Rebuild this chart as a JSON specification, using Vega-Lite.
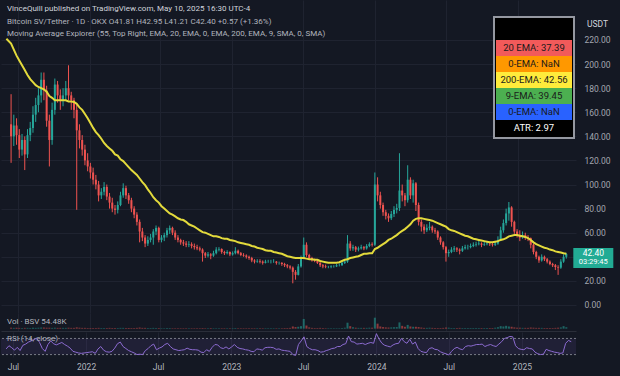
{
"$schema":"https://vega.github.io/schema/vega-lite/v6.json",
"background":"#141823",
"padding":{"left":0,"top":0,"right":6,"bottom":6},
"spacing":0,
"config":{"view":{"stroke":null},"font":"Roboto","axis":{"gridColor":"#1f2330","gridWidth":1}},
"datasets":{"tbl":[{"k":"20 EMA: 37.39"},{"k":"0-EMA: NaN"},{"k":"200-EMA: 42.56"},{"k":"9-EMA: 39.45"},{"k":"0-EMA: NaN "},{"k":"ATR: 2.97"}]},
"data":{"values":[
{"d":"2021-06-02","m":221},
{"d":"2021-06-14","o":150,"h":175,"l":118,"c":140,"v":6,"r":44,"m":217},
{"d":"2021-06-21","o":140,"h":158,"l":132,"c":149,"v":5,"r":52,"m":212},
{"d":"2021-06-28","o":149,"h":155,"l":133,"c":141,"v":5,"r":47,"m":207},
{"d":"2021-07-05","o":141,"h":146,"l":122,"c":129,"v":5,"r":41,"m":203},
{"d":"2021-07-12","o":129,"h":142,"l":124,"c":137,"v":4,"r":48,"m":199},
{"d":"2021-07-19","o":137,"h":140,"l":112,"c":125,"v":5,"r":40,"m":195},
{"d":"2021-07-26","o":125,"h":146,"l":122,"c":141,"v":5,"r":53,"m":191},
{"d":"2021-08-02","o":141,"h":152,"l":136,"c":147,"v":4,"r":56,"m":187.5},
{"d":"2021-08-09","o":147,"h":165,"l":143,"c":158,"v":5,"r":61,"m":185},
{"d":"2021-08-16","o":158,"h":172,"l":152,"c":166,"v":5,"r":64,"m":182.5},
{"d":"2021-08-23","o":166,"h":180,"l":160,"c":174,"v":6,"r":67,"m":181},
{"d":"2021-08-30","o":174,"h":193,"l":168,"c":187,"v":7,"r":71,"m":180},
{"d":"2021-09-06","o":187,"h":193,"l":170,"c":178,"v":7,"r":60,"m":179},
{"d":"2021-09-13","o":178,"h":182,"l":148,"c":153,"v":6,"r":45,"m":177},
{"d":"2021-09-20","o":153,"h":158,"l":115,"c":137,"v":6,"r":38,"m":173.5},
{"d":"2021-09-27","o":137,"h":168,"l":133,"c":162,"v":5,"r":55,"m":172},
{"d":"2021-10-04","o":162,"h":188,"l":158,"c":183,"v":6,"r":64,"m":170},
{"d":"2021-10-11","o":183,"h":186,"l":168,"c":174,"v":5,"r":57,"m":170},
{"d":"2021-10-18","o":174,"h":179,"l":162,"c":170,"v":5,"r":54,"m":170},
{"d":"2021-10-25","o":170,"h":180,"l":165,"c":174,"v":5,"r":57,"m":170},
{"d":"2021-11-01","o":174,"h":186,"l":170,"c":180,"v":5,"r":60,"m":170},
{"d":"2021-11-08","o":180,"h":199,"l":170,"c":174,"v":6,"r":55,"m":169},
{"d":"2021-11-15","o":174,"h":177,"l":162,"c":170,"v":5,"r":51,"m":169},
{"d":"2021-11-22","o":170,"h":172,"l":155,"c":162,"v":5,"r":46,"m":168.5},
{"d":"2021-11-29","o":162,"h":166,"l":79,"c":145,"v":8,"r":38,"m":167},
{"d":"2021-12-06","o":145,"h":150,"l":130,"c":137,"v":6,"r":36,"m":164},
{"d":"2021-12-13","o":137,"h":141,"l":124,"c":129,"v":5,"r":34,"m":162},
{"d":"2021-12-20","o":129,"h":133,"l":116,"c":120,"v":5,"r":33,"m":158.5},
{"d":"2021-12-27","o":120,"h":126,"l":111,"c":115,"v":4,"r":34,"m":155},
{"d":"2022-01-03","o":115,"h":118,"l":105,"c":110,"v":4,"r":35,"m":151},
{"d":"2022-01-10","o":110,"h":114,"l":100,"c":104,"v":4,"r":36,"m":147},
{"d":"2022-01-17","o":104,"h":108,"l":96,"c":100,"v":4,"r":37,"m":143.5},
{"d":"2022-01-24","o":100,"h":103,"l":86,"c":91,"v":5,"r":33,"m":141},
{"d":"2022-01-31","o":91,"h":97,"l":88,"c":94,"v":4,"r":44,"m":138},
{"d":"2022-02-07","o":94,"h":102,"l":91,"c":98,"v":4,"r":50,"m":134.5},
{"d":"2022-02-14","o":98,"h":100,"l":87,"c":90,"v":4,"r":41,"m":132},
{"d":"2022-02-21","o":90,"h":93,"l":80,"c":85,"v":5,"r":37,"m":130},
{"d":"2022-02-28","o":85,"h":89,"l":77,"c":80,"v":4,"r":36,"m":128},
{"d":"2022-03-07","o":80,"h":83,"l":75,"c":79,"v":4,"r":38,"m":125},
{"d":"2022-03-14","o":79,"h":86,"l":76,"c":83,"v":4,"r":46,"m":124},
{"d":"2022-03-21","o":83,"h":94,"l":82,"c":91,"v":5,"r":57,"m":121},
{"d":"2022-03-28","o":91,"h":101,"l":89,"c":97,"v":5,"r":61,"m":119.5},
{"d":"2022-04-04","o":97,"h":99,"l":88,"c":91,"v":4,"r":50,"m":117},
{"d":"2022-04-11","o":91,"h":93,"l":84,"c":87,"v":4,"r":45,"m":114.5},
{"d":"2022-04-18","o":87,"h":89,"l":77,"c":80,"v":4,"r":40,"m":112},
{"d":"2022-04-25","o":80,"h":82,"l":72,"c":75,"v":4,"r":37,"m":110},
{"d":"2022-05-02","o":75,"h":77,"l":66,"c":69,"v":5,"r":34,"m":108},
{"d":"2022-05-09","o":69,"h":71,"l":52,"c":61,"v":7,"r":30,"m":105},
{"d":"2022-05-16","o":61,"h":64,"l":53,"c":56,"v":5,"r":31,"m":102},
{"d":"2022-05-23","o":56,"h":58,"l":48,"c":51,"v":5,"r":30,"m":99.5},
{"d":"2022-05-30","o":51,"h":57,"l":49,"c":54,"v":4,"r":40,"m":96},
{"d":"2022-06-06","o":54,"h":59,"l":52,"c":56,"v":4,"r":45,"m":93},
{"d":"2022-06-13","o":56,"h":63,"l":50,"c":61,"v":5,"r":52,"m":89.5},
{"d":"2022-06-20","o":61,"h":66,"l":58,"c":64,"v":4,"r":56,"m":87},
{"d":"2022-06-27","o":64,"h":65,"l":52,"c":54,"v":4,"r":42,"m":85},
{"d":"2022-07-04","o":54,"h":58,"l":52,"c":56,"v":3,"r":46,"m":82},
{"d":"2022-07-11","o":56,"h":60,"l":53,"c":58,"v":3,"r":49,"m":80},
{"d":"2022-07-18","o":58,"h":64,"l":56,"c":62,"v":4,"r":55,"m":78},
{"d":"2022-07-25","o":62,"h":66,"l":59,"c":64,"v":4,"r":58,"m":76},
{"d":"2022-08-01","o":64,"h":65,"l":58,"c":60,"v":3,"r":50,"m":75},
{"d":"2022-08-08","o":60,"h":62,"l":54,"c":56,"v":3,"r":44,"m":73.5},
{"d":"2022-08-15","o":56,"h":58,"l":52,"c":54,"v":3,"r":42,"m":72},
{"d":"2022-08-22","o":54,"h":55,"l":50,"c":52,"v":3,"r":40,"m":71},
{"d":"2022-08-29","o":52,"h":54,"l":49,"c":51,"v":3,"r":41,"m":70.5},
{"d":"2022-09-05","o":51,"h":53,"l":48,"c":50,"v":3,"r":42,"m":69},
{"d":"2022-09-12","o":50,"h":53,"l":48,"c":50.5,"v":3,"r":46,"m":67},
{"d":"2022-09-19","o":50.5,"h":52,"l":47,"c":49,"v":3,"r":43,"m":66},
{"d":"2022-09-26","o":49,"h":51,"l":46,"c":48,"v":3,"r":42,"m":65},
{"d":"2022-10-03","o":48,"h":50,"l":45.5,"c":47,"v":3,"r":42,"m":63.5},
{"d":"2022-10-10","o":47,"h":48.5,"l":44.5,"c":46,"v":3,"r":41,"m":62},
{"d":"2022-10-17","o":46,"h":47,"l":36,"c":43,"v":4,"r":36,"m":60.5},
{"d":"2022-10-24","o":43,"h":44,"l":39,"c":41,"v":3,"r":35,"m":60},
{"d":"2022-10-31","o":41,"h":44,"l":39.5,"c":42,"v":3,"r":42,"m":59},
{"d":"2022-11-07","o":42,"h":43,"l":38,"c":41,"v":4,"r":38,"m":58},
{"d":"2022-11-14","o":41,"h":45,"l":40,"c":43,"v":3,"r":48,"m":57},
{"d":"2022-11-21","o":43,"h":48,"l":42,"c":46,"v":3,"r":55,"m":57},
{"d":"2022-11-28","o":46,"h":48,"l":44.5,"c":46.5,"v":3,"r":54,"m":56.5},
{"d":"2022-12-05","o":46.5,"h":47,"l":42.5,"c":44,"v":3,"r":47,"m":55.5},
{"d":"2022-12-12","o":44,"h":45,"l":41.5,"c":43,"v":3,"r":45,"m":55},
{"d":"2022-12-19","o":43,"h":45.5,"l":42,"c":44,"v":3,"r":49,"m":55},
{"d":"2022-12-26","o":44,"h":44.5,"l":40.5,"c":42,"v":3,"r":44,"m":54},
{"d":"2023-01-02","o":42,"h":44.5,"l":41,"c":43,"v":3,"r":49,"m":53.5},
{"d":"2023-01-09","o":43,"h":48,"l":42,"c":45,"v":4,"r":55,"m":53},
{"d":"2023-01-16","o":45,"h":46,"l":42,"c":43,"v":3,"r":48,"m":52},
{"d":"2023-01-23","o":43,"h":44,"l":40.5,"c":41.5,"v":3,"r":45,"m":51.5},
{"d":"2023-01-30","o":41.5,"h":43,"l":40,"c":41,"v":3,"r":44,"m":51},
{"d":"2023-02-06","o":41,"h":42,"l":38.5,"c":40,"v":3,"r":42,"m":50.5},
{"d":"2023-02-13","o":40,"h":41,"l":37.5,"c":39,"v":3,"r":41,"m":50},
{"d":"2023-02-20","o":39,"h":40,"l":35.5,"c":37,"v":3,"r":38,"m":49},
{"d":"2023-02-27","o":37,"h":38,"l":34.5,"c":36,"v":3,"r":37,"m":48.5},
{"d":"2023-03-06","o":36,"h":38,"l":35,"c":36.5,"v":3,"r":44,"m":47.5},
{"d":"2023-03-13","o":36.5,"h":38,"l":34.5,"c":36,"v":3,"r":43,"m":47},
{"d":"2023-03-20","o":36,"h":37,"l":33.5,"c":35,"v":3,"r":41,"m":46.5},
{"d":"2023-03-27","o":35,"h":37.5,"l":34.5,"c":36,"v":3,"r":47,"m":45.5},
{"d":"2023-04-03","o":36,"h":37.5,"l":35,"c":36,"v":3,"r":48,"m":45},
{"d":"2023-04-10","o":36,"h":37.5,"l":34.5,"c":36,"v":3,"r":48,"m":45},
{"d":"2023-04-17","o":36,"h":38,"l":35,"c":36,"v":3,"r":47,"m":44},
{"d":"2023-04-24","o":36,"h":36.5,"l":33.5,"c":35,"v":3,"r":43,"m":43.5},
{"d":"2023-05-01","o":35,"h":36,"l":33.5,"c":35,"v":3,"r":44,"m":43},
{"d":"2023-05-08","o":35,"h":35.5,"l":32.5,"c":34,"v":3,"r":41,"m":42.5},
{"d":"2023-05-15","o":34,"h":35,"l":31.5,"c":33,"v":4,"r":40,"m":41.5},
{"d":"2023-05-22","o":33,"h":34,"l":30.5,"c":32,"v":4,"r":39,"m":40.5},
{"d":"2023-05-29","o":32,"h":33,"l":29.5,"c":31,"v":5,"r":38,"m":40},
{"d":"2023-06-05","o":31,"h":32,"l":18,"c":27.5,"v":14,"r":30,"m":39.5},
{"d":"2023-06-12","o":27.5,"h":29,"l":21,"c":25,"v":10,"r":28,"m":39},
{"d":"2023-06-19","o":25,"h":34,"l":24.5,"c":32,"v":12,"r":55,"m":39},
{"d":"2023-06-26","o":32,"h":41,"l":31,"c":39,"v":16,"r":64,"m":39},
{"d":"2023-07-03","o":39,"h":56,"l":38,"c":50,"v":62,"r":74,"m":39},
{"d":"2023-07-10","o":50,"h":52,"l":40,"c":41.5,"v":20,"r":50,"m":38.5},
{"d":"2023-07-17","o":41.5,"h":42.5,"l":38,"c":39,"v":8,"r":45,"m":38},
{"d":"2023-07-24","o":39,"h":40,"l":36,"c":37,"v":5,"r":42,"m":38},
{"d":"2023-07-31","o":37,"h":38.5,"l":35.5,"c":36.5,"v":4,"r":42,"m":37.5},
{"d":"2023-08-07","o":36.5,"h":37.5,"l":34,"c":35,"v":4,"r":40,"m":37.5},
{"d":"2023-08-14","o":35,"h":35.5,"l":31.5,"c":33,"v":5,"r":36,"m":36.5},
{"d":"2023-08-21","o":33,"h":34,"l":30.5,"c":32,"v":4,"r":37,"m":36},
{"d":"2023-08-28","o":32,"h":33.5,"l":30.5,"c":31.5,"v":3,"r":40,"m":35.5},
{"d":"2023-09-04","o":31.5,"h":32.5,"l":30.5,"c":31.5,"v":3,"r":42,"m":35},
{"d":"2023-09-11","o":31.5,"h":33,"l":30.5,"c":32,"v":3,"r":45,"m":35},
{"d":"2023-09-18","o":32,"h":33,"l":31,"c":32,"v":3,"r":46,"m":35},
{"d":"2023-09-25","o":32,"h":34,"l":31.5,"c":33,"v":3,"r":50,"m":35},
{"d":"2023-10-02","o":33,"h":34.5,"l":32,"c":33,"v":3,"r":50,"m":35.5},
{"d":"2023-10-09","o":33,"h":36,"l":32.5,"c":35,"v":4,"r":55,"m":36.5},
{"d":"2023-10-16","o":35,"h":38,"l":34,"c":36,"v":6,"r":57,"m":37.5},
{"d":"2023-10-23","o":36,"h":58,"l":35,"c":51,"v":38,"r":76,"m":38},
{"d":"2023-10-30","o":51,"h":53,"l":45,"c":47,"v":16,"r":62,"m":39},
{"d":"2023-11-06","o":47,"h":50,"l":45,"c":48,"v":9,"r":61,"m":39.5},
{"d":"2023-11-13","o":48,"h":49,"l":44,"c":46,"v":6,"r":56,"m":40},
{"d":"2023-11-20","o":46,"h":48.5,"l":44.5,"c":47,"v":5,"r":57,"m":40.5},
{"d":"2023-11-27","o":47,"h":50,"l":46,"c":48,"v":5,"r":58,"m":41.5},
{"d":"2023-12-04","o":48,"h":49,"l":45.5,"c":47,"v":5,"r":55,"m":42.5},
{"d":"2023-12-11","o":47,"h":50.5,"l":46,"c":49,"v":5,"r":58,"m":42.5},
{"d":"2023-12-18","o":49,"h":52,"l":48,"c":50.5,"v":6,"r":60,"m":43},
{"d":"2023-12-25","o":50.5,"h":52,"l":48.5,"c":50,"v":6,"r":58,"m":43},
{"d":"2024-01-01","o":50,"h":110,"l":49,"c":100,"v":70,"r":82,"m":46.5},
{"d":"2024-01-08","o":100,"h":106,"l":86,"c":91,"v":32,"r":68,"m":47.5},
{"d":"2024-01-15","o":91,"h":94,"l":80,"c":83,"v":14,"r":58,"m":49},
{"d":"2024-01-22","o":83,"h":85,"l":74,"c":77,"v":10,"r":53,"m":50.5},
{"d":"2024-01-29","o":77,"h":79,"l":71,"c":74,"v":8,"r":51,"m":52},
{"d":"2024-02-05","o":74,"h":76,"l":69,"c":72,"v":7,"r":49,"m":54},
{"d":"2024-02-12","o":72,"h":78,"l":70.5,"c":75.5,"v":8,"r":54,"m":55},
{"d":"2024-02-19","o":75.5,"h":82,"l":73,"c":79,"v":9,"r":57,"m":56.5},
{"d":"2024-02-26","o":79,"h":84,"l":76,"c":80.5,"v":10,"r":58,"m":58},
{"d":"2024-03-04","o":80.5,"h":126,"l":78,"c":95,"v":40,"r":70,"m":60},
{"d":"2024-03-11","o":95,"h":100,"l":86,"c":91,"v":18,"r":62,"m":61.5},
{"d":"2024-03-18","o":91,"h":93,"l":82,"c":87,"v":12,"r":58,"m":63},
{"d":"2024-03-25","o":87,"h":116,"l":85,"c":104,"v":24,"r":68,"m":65},
{"d":"2024-04-01","o":104,"h":106,"l":88,"c":91,"v":14,"r":56,"m":67},
{"d":"2024-04-08","o":91,"h":104,"l":85,"c":101,"v":12,"r":61,"m":70},
{"d":"2024-04-15","o":101,"h":102,"l":78,"c":83,"v":12,"r":45,"m":71.5},
{"d":"2024-04-22","o":83,"h":85,"l":66,"c":69,"v":10,"r":38,"m":72},
{"d":"2024-04-29","o":69,"h":71,"l":61,"c":65,"v":7,"r":36,"m":72},
{"d":"2024-05-06","o":65,"h":67,"l":59,"c":62,"v":5,"r":35,"m":71.5},
{"d":"2024-05-13","o":62,"h":67,"l":60.5,"c":64,"v":5,"r":45,"m":71},
{"d":"2024-05-20","o":64,"h":69,"l":62,"c":65,"v":6,"r":47,"m":70.5},
{"d":"2024-05-27","o":65,"h":66,"l":60,"c":62,"v":5,"r":43,"m":70},
{"d":"2024-06-03","o":62,"h":64,"l":59,"c":61,"v":4,"r":42,"m":69},
{"d":"2024-06-10","o":61,"h":62,"l":54,"c":56,"v":4,"r":37,"m":68},
{"d":"2024-06-17","o":56,"h":57,"l":50,"c":52,"v":4,"r":34,"m":67},
{"d":"2024-06-24","o":52,"h":53,"l":46,"c":48,"v":5,"r":32,"m":66},
{"d":"2024-07-01","o":48,"h":49,"l":36,"c":43,"v":7,"r":29,"m":65},
{"d":"2024-07-08","o":43,"h":46,"l":40,"c":44,"v":6,"r":38,"m":63},
{"d":"2024-07-15","o":44,"h":48,"l":43,"c":46,"v":4,"r":45,"m":62},
{"d":"2024-07-22","o":46,"h":49,"l":44,"c":47,"v":4,"r":48,"m":61.5},
{"d":"2024-07-29","o":47,"h":48,"l":44,"c":46,"v":4,"r":44,"m":60.5},
{"d":"2024-08-05","o":46,"h":47,"l":42,"c":45,"v":5,"r":42,"m":59.5},
{"d":"2024-08-12","o":45,"h":49,"l":44,"c":47,"v":4,"r":50,"m":58.5},
{"d":"2024-08-19","o":47,"h":50,"l":46,"c":48,"v":4,"r":52,"m":57.5},
{"d":"2024-08-26","o":48,"h":50,"l":46,"c":48,"v":4,"r":51,"m":57},
{"d":"2024-09-02","o":48,"h":51,"l":47,"c":49,"v":4,"r":53,"m":56},
{"d":"2024-09-09","o":49,"h":52,"l":48,"c":50,"v":4,"r":55,"m":55},
{"d":"2024-09-16","o":50,"h":52.5,"l":48.5,"c":50.5,"v":4,"r":55,"m":54.5},
{"d":"2024-09-23","o":50.5,"h":53.5,"l":49.5,"c":51,"v":4,"r":56,"m":54},
{"d":"2024-09-30","o":51,"h":52,"l":48,"c":50,"v":4,"r":50,"m":53.5},
{"d":"2024-10-07","o":50,"h":52.5,"l":49,"c":50.5,"v":4,"r":53,"m":53},
{"d":"2024-10-14","o":50.5,"h":53,"l":49.5,"c":51,"v":4,"r":55,"m":52.5},
{"d":"2024-10-21","o":51,"h":52,"l":49,"c":50.5,"v":4,"r":52,"m":52},
{"d":"2024-10-28","o":50.5,"h":51.5,"l":48.5,"c":50,"v":4,"r":50,"m":52},
{"d":"2024-11-04","o":50,"h":53,"l":49,"c":51,"v":6,"r":56,"m":52.5},
{"d":"2024-11-11","o":51,"h":57,"l":50,"c":54,"v":9,"r":62,"m":53},
{"d":"2024-11-18","o":54,"h":65,"l":53,"c":62,"v":16,"r":70,"m":54},
{"d":"2024-11-25","o":62,"h":71,"l":60,"c":68,"v":14,"r":72,"m":54.5},
{"d":"2024-12-02","o":68,"h":80,"l":66,"c":76,"v":18,"r":75,"m":55.5},
{"d":"2024-12-09","o":76,"h":85.5,"l":70,"c":81,"v":14,"r":74,"m":57},
{"d":"2024-12-16","o":81,"h":82,"l":65,"c":69,"v":12,"r":52,"m":57.5},
{"d":"2024-12-23","o":69,"h":70,"l":59,"c":61,"v":8,"r":45,"m":58},
{"d":"2024-12-30","o":61,"h":63,"l":56,"c":58,"v":6,"r":43,"m":58},
{"d":"2025-01-06","o":58,"h":62,"l":53,"c":56,"v":6,"r":42,"m":57.5},
{"d":"2025-01-13","o":56,"h":61,"l":55,"c":58,"v":5,"r":47,"m":57},
{"d":"2025-01-20","o":58,"h":60,"l":54,"c":56,"v":5,"r":45,"m":56.5},
{"d":"2025-01-27","o":56,"h":58,"l":53,"c":55.5,"v":5,"r":44,"m":55.5},
{"d":"2025-02-03","o":55.5,"h":56,"l":47,"c":50,"v":7,"r":36,"m":54},
{"d":"2025-02-10","o":50,"h":51,"l":42,"c":44,"v":6,"r":32,"m":52},
{"d":"2025-02-17","o":44,"h":45,"l":38,"c":40,"v":5,"r":30,"m":50.5},
{"d":"2025-02-24","o":40,"h":41,"l":35,"c":37,"v":5,"r":31,"m":49.5},
{"d":"2025-03-03","o":37,"h":42,"l":36,"c":40,"v":5,"r":43,"m":48.5},
{"d":"2025-03-10","o":40,"h":41,"l":36.5,"c":38,"v":4,"r":40,"m":47.5},
{"d":"2025-03-17","o":38,"h":39,"l":34.5,"c":36,"v":4,"r":38,"m":47},
{"d":"2025-03-24","o":36,"h":37,"l":33,"c":34,"v":4,"r":36,"m":46},
{"d":"2025-03-31","o":34,"h":35,"l":31.5,"c":33,"v":4,"r":35,"m":45.5},
{"d":"2025-04-07","o":33,"h":34,"l":29,"c":31.5,"v":5,"r":33,"m":44.5},
{"d":"2025-04-14","o":31.5,"h":33,"l":25,"c":31,"v":6,"r":34,"m":44},
{"d":"2025-04-21","o":31,"h":38,"l":30,"c":36,"v":8,"r":58,"m":43.5},
{"d":"2025-04-28","o":36,"h":42,"l":35,"c":40,"v":16,"r":65,"m":43},
{"d":"2025-05-05","o":40,"h":43,"l":38.5,"c":42.4,"v":9,"r":62,"m":42.6,"cd":"03:29:45"}
]},
"vconcat":[
{
"width":575,"height":313,
"title":{"text":"VinceQuill published on TradingView.com, May 10, 2025 16:30 UTC-4","subtitle":["\u00a0\u00a0Bitcoin SV/Tether · 1D · OKX   O41.81  H42.95  L41.21  C42.40  +0.57 (+1.36%)","\u00a0\u00a0Moving Average Explorer (55, Top Right, EMA, 20, EMA, 0, EMA, 200, EMA, 9, SMA, 0, SMA)"],"anchor":"start","frame":"group","offset":-38,"dx":6,"font":"Roboto","fontSize":8,"fontWeight":"normal","color":"#d1d4dc","subtitleFont":"Roboto","subtitleFontSize":8,"subtitleColor":"#b2b5be","subtitlePadding":5,"subtitleLineHeight":12},
"layer":[
{"mark":{"type":"rule","strokeWidth":1},
 "encoding":{
  "x":{"field":"d","type":"temporal","scale":{"domain":[{"year":2021,"month":6,"date":1},{"year":2025,"month":5,"date":17}]},
       "axis":{"values":[{"year":2021,"month":7,"date":1},{"year":2022,"month":1,"date":1},{"year":2022,"month":7,"date":1},{"year":2023,"month":1,"date":1},{"year":2023,"month":7,"date":1},{"year":2024,"month":1,"date":1},{"year":2024,"month":7,"date":1},{"year":2025,"month":1,"date":1}],"tickCount":20,"labels":false,"ticks":false,"domain":false,"grid":true,"title":null}},
  "y":{"field":"l","type":"quantitative","scale":{"domain":[-6.66,253.2],"nice":false,"zero":false},
       "axis":{"orient":"right","values":[0,20,40,60,80,100,120,140,160,180,200,220],"tickCount":20,"labelExpr":"datum.value == 40 ? '' : format(datum.value, '.2f')","labelOverlap":false,"labelColor":"#a3a6af","labelFontSize":8.5,"labelPadding":8,"ticks":false,"domain":false,"grid":true,"title":"USDT","titleAngle":0,"titleX":21,"titleY":23,"titleAlign":"center","titleBaseline":"middle","titleColor":"#d1d4dc","titleFontSize":8.5,"titleFontWeight":"normal"}},
  "y2":{"field":"h"},
  "color":{"condition":{"test":"datum.c >= datum.o","value":"#26a69a"},"value":"#ef5350"}}},
{"mark":{"type":"bar","width":2},
 "encoding":{
  "x":{"field":"d","type":"temporal"},
  "y":{"field":"o","type":"quantitative"},
  "y2":{"field":"c"},
  "color":{"condition":{"test":"datum.c >= datum.o","value":"#26a69a"},"value":"#ef5350"}}},
{"mark":{"type":"line","color":"#e3da3c","strokeWidth":2},
 "encoding":{"x":{"field":"d","type":"temporal"},"y":{"field":"m","type":"quantitative"}}},
{"transform":[{"filter":"isValid(datum.cd)"}],
 "mark":{"type":"point","shape":"M-1,-0.5H1V0.5H-1Z","size":1600,"filled":true,"color":"#22ab94","opacity":1,"xOffset":27,"yOffset":4},
 "encoding":{"x":{"field":"d","type":"temporal"},"y":{"field":"c","type":"quantitative"}}},
{"transform":[{"filter":"isValid(datum.cd)"}],
 "mark":{"type":"text","dx":27,"dy":-1,"color":"#ffffff","fontSize":8.5,"align":"center","baseline":"middle"},
 "encoding":{"x":{"field":"d","type":"temporal"},"y":{"field":"c","type":"quantitative"},"text":{"field":"c","type":"quantitative","format":".2f"}}},
{"transform":[{"filter":"isValid(datum.cd)"}],
 "mark":{"type":"text","dx":27,"dy":8,"color":"#ffffff","fontSize":7.5,"align":"center","baseline":"middle"},
 "encoding":{"x":{"field":"d","type":"temporal"},"y":{"field":"c","type":"quantitative"},"text":{"field":"cd","type":"nominal"}}},
{"data":{"name":"tbl"},
 "mark":{"type":"square","opacity":0},
 "encoding":{"color":{"field":"k","type":"nominal",
   "scale":{"domain":["20 EMA: 37.39","0-EMA: NaN","200-EMA: 42.56","9-EMA: 39.45","0-EMA: NaN ","ATR: 2.97"],"range":["#f25a5a","#ff9800","#ffeb3b","#4caf50","#2962ff","#000000"]},
   "legend":{"orient":"none","legendX":493,"legendY":17,"direction":"vertical","title":" ","titleFontSize":10,"titlePadding":11,"titleColor":"#000000","fillColor":"#000000","strokeColor":"#9598a1","padding":2,"rowPadding":0,"symbolType":"M-4.75,-1H4.75V1H-4.75Z","symbolSize":256,"symbolStrokeWidth":0,"symbolOpacity":1,"symbolOffset":30,"labelAlign":"center","labelOffset":-8,"labelFontSize":9.5,"labelFont":"Roboto","labelBaseline":"middle",
     "encode":{"legend":{"update":{"strokeWidth":{"value":2}}},"labels":{"update":{"fill":{"signal":"datum.label == 'ATR: 2.97' ? '#ffffff' : '#1a1a1a'"}}}}}}}}
]
},
{
"width":575,"height":18,
"title":{"text":"Vol · BSV  54.48K","anchor":"start","frame":"group","offset":-13,"dx":6,"font":"Roboto","fontSize":8,"fontWeight":"normal","color":"#b2b5be"},
"mark":{"type":"bar","width":2,"opacity":0.55},
"encoding":{
 "x":{"field":"d","type":"temporal","scale":{"domain":[{"year":2021,"month":6,"date":1},{"year":2025,"month":5,"date":17}]},
      "axis":{"values":[{"year":2021,"month":7,"date":1},{"year":2022,"month":1,"date":1},{"year":2022,"month":7,"date":1},{"year":2023,"month":1,"date":1},{"year":2023,"month":7,"date":1},{"year":2024,"month":1,"date":1},{"year":2024,"month":7,"date":1},{"year":2025,"month":1,"date":1}],"tickCount":20,"labels":false,"ticks":false,"domain":true,"domainColor":"#2a2e39","grid":true,"title":null}},
 "y":{"field":"v","type":"quantitative","scale":{"domain":[-15,100],"nice":false,"zero":false},"axis":null},
 "color":{"condition":{"test":"datum.c >= datum.o","value":"#26a69a"},"value":"#ef5350"}}
},
{
"width":575,"height":25,
"title":{"text":"RSI (14, close)","anchor":"start","frame":"group","offset":-11,"dx":6,"font":"Roboto","fontSize":8,"fontWeight":"normal","color":"#b2b5be"},
"layer":[
{"data":{"values":[{}]},"mark":{"type":"rect","color":"#7e57c2","opacity":0.12},
 "encoding":{"y":{"datum":70,"type":"quantitative","scale":{"domain":[24,86],"nice":false,"zero":false},"axis":null},"y2":{"datum":30}}},
{"data":{"values":[{}]},"mark":{"type":"rule","color":"#787b86","strokeDash":[2,2],"strokeWidth":1},
 "encoding":{"y":{"datum":70,"type":"quantitative"}}},
{"data":{"values":[{}]},"mark":{"type":"rule","color":"#787b86","strokeDash":[2,2],"strokeWidth":1},
 "encoding":{"y":{"datum":30,"type":"quantitative"}}},
{"mark":{"type":"line","color":"#8c6bd1","strokeWidth":1},
 "encoding":{
  "x":{"field":"d","type":"temporal","scale":{"domain":[{"year":2021,"month":6,"date":1},{"year":2025,"month":5,"date":17}]},
       "axis":{"values":[{"year":2021,"month":7,"date":1},{"year":2022,"month":1,"date":1},{"year":2022,"month":7,"date":1},{"year":2023,"month":1,"date":1},{"year":2023,"month":7,"date":1},{"year":2024,"month":1,"date":1},{"year":2024,"month":7,"date":1},{"year":2025,"month":1,"date":1}],"tickCount":20,
       "labelExpr":"month(datum.value) == 0 ? '' + year(datum.value) : 'Jul'","labelColor":"#b2b5be","labelFontSize":8.5,"labelPadding":5,"labelFlush":false,"ticks":false,"domain":false,"grid":true,"title":null}},
  "y":{"field":"r","type":"quantitative"}}}
]
}
]
}
